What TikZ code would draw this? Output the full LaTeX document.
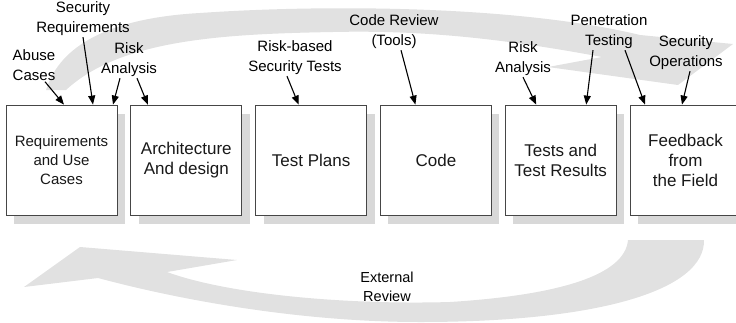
\documentclass[tikz,border=0pt]{standalone}
\usepackage{fontspec}
\setmainfont{Liberation Sans}
\usetikzlibrary{positioning,shadows,arrows.meta}

\definecolor{bandgray}{RGB}{225,225,225}
\definecolor{shadowgray}{RGB}{216,216,216}
\definecolor{edgegray}{RGB}{70,70,70}

\begin{document}
\begin{tikzpicture}
	[x=1pt,y=-1pt,
	node distance=13pt,
	phase/.style={draw=edgegray,fill=white,line width=0.8pt,minimum width=111pt,minimum height=110pt,
		align=center,inner sep=2pt,text=black!90,font=\fontsize{17}{20}\selectfont,
		drop shadow={shadow xshift=8pt,shadow yshift=-9pt,fill=shadowgray,opacity=1}},
	practice/.style={align=center,inner sep=1pt,font=\fontsize{15}{20}\selectfont},
	feed/.style={-{Triangle[length=9pt,width=7pt]},line width=1.1pt},
	band/.style={fill=bandgray,draw=none}]
	\useasboundingbox (0,0) rectangle (736,322);

	% curved arrows behind the phases
	\path[band] (46,90) .. controls (60,45) and (110,18) .. (200,13)
		.. controls (330,4) and (520,6) .. (640,35) -- (733,44) -- (678,85) -- (548,67) -- (602,57)
		.. controls (500,38) and (420,30) .. (333,32)
		.. controls (220,34) and (120,40) .. (66,90) -- cycle;
	\path[band] (628,240) -- (704,240) .. controls (705,290) and (600,322) .. (420,322)
		.. controls (300,322) and (180,300) .. (98,278) -- (24,287) -- (80,247) -- (237,260) -- (167,272)
		.. controls (230,295) and (350,305) .. (450,302)
		.. controls (560,295) and (625,275) .. (628,240) -- cycle;

	\node[phase,font=\fontsize{15}{19}\selectfont] (req) at (61.5,160) {Requirements\\and Use\\Cases};
	\node[phase,right=of req] (arch) {Architecture\\And design};
	\node[phase,right=of arch] (plans) {Test Plans};
	\node[phase,right=of plans] (code) {Code};
	\node[phase,right=of code] (tests) {Tests and\\Test Results};
	\node[phase,right=of tests] (field) {Feedback\\from\\the Field};

	\node[practice] (abuse) at (34,65) {Abuse\\Cases};
	\node[practice] (secreq) at (83,19) {Security\\Requirements};
	\node[practice] (riskA) at (129,60) {Risk\\Analysis};
	\node[practice] (riskbased) at (295,58) {Risk-based\\Security Tests};
	\node[practice] (review) at (394,32) {Code Review\\(Tools)};
	\node[practice] (riskB) at (523,59) {Risk\\Analysis};
	\node[practice] (pentest) at (609,32) {Penetration\\Testing};
	\node[practice] (secops) at (686,53) {Security\\Operations};
	\node[practice,font=\fontsize{14.5}{19}\selectfont] (external) at (387,287) {External\\Review};

	\draw[feed] ([xshift=11pt]abuse.south) -- ([xshift=2.5pt]req.north);
	\draw[feed] (secreq.south) -- ([xshift=31.5pt]req.north);
	\draw[feed] ([xshift=-9pt]riskA.south) -- ([xshift=51.5pt]req.north);
	\draw[feed] ([xshift=8pt]riskA.south) -- ([xshift=-38.5pt]arch.north);
	\draw[feed] ([xshift=-8pt]riskbased.south) -- ([xshift=-12.5pt]plans.north);
	\draw[feed] ([xshift=7pt]review.south) -- ([xshift=-20.5pt]code.north);
	\draw[feed] (riskB.south) -- ([xshift=-24.5pt]tests.north);
	\draw[feed] ([xshift=-16pt]pentest.south) -- ([xshift=25.5pt]tests.north);
	\draw[feed] ([xshift=16pt]pentest.south) -- ([xshift=-40.5pt]field.north);
	\draw[feed] ([xshift=4pt]secops.south) -- ([xshift=-3.5pt]field.north);
\end{tikzpicture}
\end{document}
